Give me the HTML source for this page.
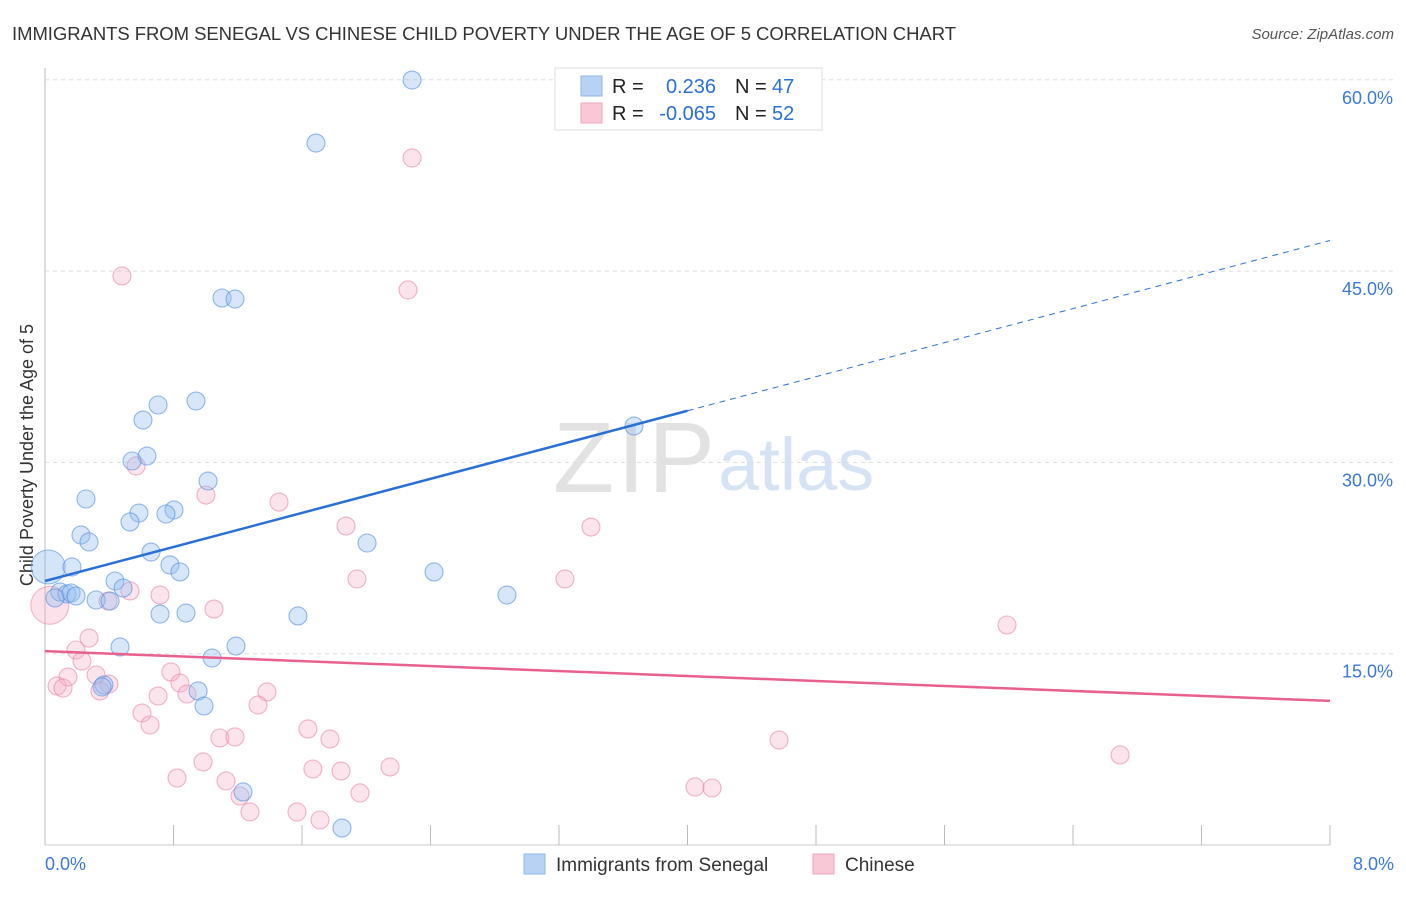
<!DOCTYPE html>
<html><head><meta charset="utf-8"><style>
body{margin:0;background:#fff;font-family:"Liberation Sans",sans-serif;}
svg text{font-family:"Liberation Sans",sans-serif;}
</style></head><body>
<svg id="c" width="1406" height="892" xmlns="http://www.w3.org/2000/svg">
<text x="12" y="40" font-size="18.5" fill="#333" textLength="944">IMMIGRANTS FROM SENEGAL VS CHINESE CHILD POVERTY UNDER THE AGE OF 5 CORRELATION CHART</text>
<text x="1394" y="39" font-size="15" fill="#555" text-anchor="end" font-style="italic">Source: ZipAtlas.com</text>
<text x="553" y="492" font-size="100" fill="#e2e2e2" font-family="Liberation Serif" textLength="162">ZIP</text>
<text x="718" y="490" font-size="74" fill="#d6e3f5">atlas</text>
<text transform="translate(33,455) rotate(-90)" font-size="18" fill="#333" text-anchor="middle">Child Poverty Under the Age of 5</text>
<g id="grid"></g><g id="pts"></g><g id="lines"></g>
<g>
<rect x="555" y="68" width="267" height="62" fill="#fff" stroke="#ddd"/>
<rect x="581" y="76" width="21" height="20" fill="#b8d2f3" stroke="#8fb5e8"/>
<rect x="581" y="103" width="21" height="20" fill="#f9c8d7" stroke="#eea5bd"/>
<text x="612" y="93" font-size="20" fill="#222">R =</text><text x="716" y="93" font-size="20" fill="#2a6fd6" text-anchor="end">0.236</text>
<text x="735" y="93" font-size="20" fill="#222">N =</text><text x="772" y="93" font-size="20" fill="#2a6fd6">47</text>
<text x="612" y="120" font-size="20" fill="#222">R =</text><text x="716" y="120" font-size="20" fill="#2a6fd6" text-anchor="end">-0.065</text>
<text x="735" y="120" font-size="20" fill="#222">N =</text><text x="772" y="120" font-size="20" fill="#2a6fd6">52</text>
</g>
<g>
<rect x="524" y="854" width="21" height="20" fill="#b8d2f3" stroke="#8fb5e8"/>
<text x="556" y="871" font-size="19" fill="#333">Immigrants from Senegal</text>
<rect x="813" y="854" width="21" height="20" fill="#f9c8d7" stroke="#eea5bd"/>
<text x="845" y="871" font-size="19" fill="#333">Chinese</text>
</g>
<text x="45" y="870" font-size="18" fill="#3a78d8">0.0%</text>
<text x="1394" y="870" font-size="18" fill="#3a78d8" text-anchor="end">8.0%</text>
</svg>
<script>
const yTicks=[15,30,45,60];
const xTickCount=10;
const bluePx=[[412,80],[316,143],[222,298],[235,299],[196,401],[158,405],[143,420],[147,456],[132,461],[208,481],[86,499],[139,513],[174,510],[166,514],[130,522],[81,535],[89,542],[151,552],[367,543],[170,565],[180,572],[72,567],[434,572],[115,581],[123,588],[507,595],[60,592],[67,594],[71,593],[76,596],[96,600],[110,601],[160,614],[186,613],[298,616],[120,647],[236,646],[212,658],[198,691],[104,685],[102,687],[204,706],[243,792],[342,828],[634,426],[55,598]];
const pinkPx=[[412,158],[122,276],[408,290],[136,466],[206,495],[279,502],[346,526],[591,527],[357,579],[565,579],[130,591],[160,595],[108,601],[214,609],[1007,625],[89,638],[76,650],[82,661],[171,672],[68,677],[96,675],[180,683],[57,686],[63,688],[109,684],[100,691],[158,696],[187,694],[267,692],[142,713],[258,705],[308,729],[150,725],[220,738],[235,737],[330,739],[779,740],[1120,755],[203,762],[390,767],[177,778],[313,769],[341,771],[226,781],[360,793],[240,796],[695,787],[712,788],[250,812],[297,812],[320,820]];
const blueX=bluePx.map(p=>+((p[0]-45)*8/1285).toFixed(3));
const blueY=bluePx.map(p=>+((845-p[1])*15/191.3).toFixed(2));
const pinkX=pinkPx.map(p=>+((p[0]-45)*8/1285).toFixed(3));
const pinkY=pinkPx.map(p=>+((845-p[1])*15/191.3).toFixed(2));
const blueBig=[0.02,21.8], pinkBig=[0.03,18.8];
const blueTrend=[20.7,47.4], pinkTrend=[15.2,11.3];
const X=v=>45+v/8*1285, Y=v=>845-v/15*191.3;
const NS='http://www.w3.org/2000/svg';
function mk(tag,attrs,parent){const e=document.createElementNS(NS,tag);for(const k in attrs)e.setAttribute(k,attrs[k]);document.getElementById(parent).appendChild(e);return e;}
let a=mk('line',{x1:45,y1:68,x2:45,y2:845,stroke:'#bbb'},'grid');

a=mk('line',{x1:45,y1:845,x2:1330,y2:845,stroke:'#ccc'},'grid');

for(let i=1;i<=xTickCount;i++){const l=mk('line',{x1:45+i*128.5,y1:825,x2:45+i*128.5,y2:845,stroke:'#bbb'},'grid');

}
yTicks.forEach(t=>{const l=mk('line',{x1:45,y1:Y(t),x2:1395,y2:Y(t),stroke:'#ddd','stroke-dasharray':'4,4'},'grid');


const tx=mk('text',{x:1393,y:Y(t)+24,'font-size':18,fill:'#3a78d8','text-anchor':'end'},'grid');tx.textContent=t.toFixed(1)+'%';

});
let c=mk('circle',{cx:X(pinkBig[0]),cy:Y(pinkBig[1]),r:19,fill:'rgba(246,170,195,0.35)',stroke:'rgba(232,130,165,0.6)'},'pts');


c=mk('circle',{cx:X(blueBig[0]),cy:Y(blueBig[1]),r:17,fill:'rgba(150,190,240,0.4)',stroke:'rgba(80,140,220,0.6)'},'pts');


pinkX.forEach((x,i)=>{const e=mk('circle',{cx:X(x),cy:Y(pinkY[i]),r:9,fill:'rgba(246,170,195,0.32)',stroke:'rgba(232,130,165,0.6)','stroke-width':1.1},'pts');

});
blueX.forEach((x,i)=>{const e=mk('circle',{cx:X(x),cy:Y(blueY[i]),r:9,fill:'rgba(150,190,240,0.38)',stroke:'rgba(80,140,220,0.6)','stroke-width':1.1},'pts');

});
const bAt=x=>blueTrend[0]+(blueTrend[1]-blueTrend[0])*x/8;
let l=mk('line',{x1:X(0),y1:Y(bAt(0)),x2:X(4),y2:Y(bAt(4)),stroke:'#2a6fd6','stroke-width':2.5},'lines');


l=mk('line',{x1:X(4),y1:Y(bAt(4)),x2:X(8),y2:Y(bAt(8)),stroke:'#2a6fd6','stroke-width':1,'stroke-dasharray':'6,5'},'lines');


l=mk('line',{x1:X(0),y1:Y(pinkTrend[0]),x2:X(8),y2:Y(pinkTrend[1]),stroke:'#e8608e','stroke-width':2.5},'lines');


</script>
</body></html>
